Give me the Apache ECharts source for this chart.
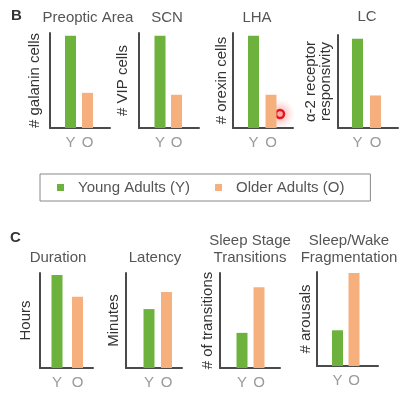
<!DOCTYPE html>
<html>
<head>
<meta charset="utf-8">
<script src="https://cdn.jsdelivr.net/npm/echarts@6/dist/echarts.min.js"></script>
<style>html,body{margin:0;padding:0;background:#fff}#c{width:406px;height:395px}</style>
</head>
<body>
<div id="c"></div>
<script>
// ---- data ----
const categories = ['Y', 'O'];
const seriesNames = ['Young Adults (Y)', 'Older Adults (O)'];
const titlesB = ['Preoptic Area', 'SCN', 'LHA', 'LC'];
const yLabelsB = ['# galanin cells', '# VIP cells', '# orexin cells', 'α-2 receptor\nresponsivity'];
const youngB = [97, 97, 97, 96];
const olderB = [37, 35, 35, 35];
const titlesC = ['Duration', 'Latency', 'Sleep Stage\nTransitions', 'Sleep/Wake\nFragmentation'];
const yLabelsC = ['Hours', 'Minutes', '# of transitions', '# arousals'];
const youngC = [98, 62, 37, 38];
const olderC = [75, 80, 85, 99];

// ---- layout (pixels) ----
const layoutB = [
  {x: 50, x2: 110, top: 33, base: 128, g: 70.5, o: 87.5, gap: 8, tx: 88, ty: 18},
  {x: 139, x2: 199, top: 33, base: 128, g: 160, o: 176.5, gap: 9, tx: 167, ty: 18},
  {x: 233, x2: 293, top: 33, base: 128, g: 253.5, o: 271, gap: 4, tx: 257, ty: 18},
  {x: 338, x2: 398, top: 35, base: 128, g: 357.5, o: 375.5, gap: 5, tx: 367, ty: 17}
];
const layoutC = [
  {x: 40, x2: 93, top: 273, base: 368, g: 57, o: 77.5, gap: 7, tx: 58, ty: 258},
  {x: 126, x2: 182, top: 273, base: 368, g: 149, o: 166.5, gap: 5, tx: 155, ty: 258},
  {x: 220, x2: 280, top: 273, base: 368, g: 242, o: 259, gap: 5, tx: 250, ty: 249.5},
  {x: 317, x2: 378, top: 272, base: 366, g: 337.5, o: 354, gap: 4, tx: 349, ty: 249.5}
];

const GREEN = '#6cb23c', ORANGE = '#f6b07e', AXIS = '#4a4a4a';
const FONT = '"Liberation Sans", Arial, sans-serif';

const grid = [], xAxis = [], yAxis = [], series = [], title = [];

function addPanel(L, ttl, ylab, yv, ov) {
  const fi = grid.length;
  // frame grid (axis lines + y name)
  grid.push({left: L.x, top: L.top, width: L.x2 - L.x, height: L.base - L.top});
  xAxis.push({gridIndex: fi, type: 'value', min: 0, max: 1,
    axisLine: {show: true, lineStyle: {color: AXIS, width: 2}},
    axisTick: {show: false}, axisLabel: {show: false}, splitLine: {show: false}});
  yAxis.push({gridIndex: fi, type: 'value', min: 0, max: 1,
    name: ylab, nameLocation: 'middle', nameGap: L.gap,
    nameTextStyle: {fontSize: 15, color: '#333', fontFamily: FONT, lineHeight: 15},
    axisLine: {show: true, lineStyle: {color: AXIS, width: 2}},
    axisTick: {show: false}, axisLabel: {show: false}, splitLine: {show: false}});
  // bar grid
  const d = L.o - L.g;
  const bi = grid.length;
  grid.push({left: L.g - d / 2, top: L.top, width: 2 * d, height: L.base - L.top});
  xAxis.push({gridIndex: bi, type: 'category', data: categories,
    axisLine: {show: false}, axisTick: {show: false},
    axisLabel: {color: '#9a9a9a', fontSize: 15, fontFamily: FONT, margin: 7}});
  yAxis.push({gridIndex: bi, type: 'value', min: 0, max: 100, show: false});
  series.push({type: 'bar', name: seriesNames[0], xAxisIndex: bi, yAxisIndex: bi,
    data: [yv, '-'], barWidth: 11, barGap: '-100%', itemStyle: {color: GREEN}});
  series.push({type: 'bar', name: seriesNames[1], xAxisIndex: bi, yAxisIndex: bi,
    data: ['-', ov], barWidth: 11, barGap: '-100%', itemStyle: {color: ORANGE}});
  const lines = ttl.split('\n').length;
  title.push({text: ttl, left: L.tx, top: L.ty - lines * 17 / 2, textAlign: 'center', padding: 0,
    textStyle: {fontSize: 15, fontWeight: 'normal', color: '#555', fontFamily: FONT, lineHeight: 17}});
}

layoutB.forEach((L, i) => addPanel(L, titlesB[i], yLabelsB[i], youngB[i], olderB[i]));
layoutC.forEach((L, i) => addPanel(L, titlesC[i], yLabelsC[i], youngC[i], olderC[i]));

title.push({text: 'B', left: 11, top: 8, padding: 0,
  textStyle: {fontSize: 15, fontWeight: 'bold', color: '#333', fontFamily: FONT}});
title.push({text: 'C', left: 10, top: 230, padding: 0,
  textStyle: {fontSize: 15, fontWeight: 'bold', color: '#333', fontFamily: FONT}});

const chart = echarts.init(document.getElementById('c'));
chart.setOption({
  animation: false,
  title: title,
  grid: grid,
  xAxis: xAxis,
  yAxis: yAxis,
  series: series,
  legend: {
    data: seriesNames, left: 40, top: 174, orient: 'horizontal',
    icon: 'rect', itemWidth: 7, itemHeight: 7, itemGap: 25,
    padding: [6, 26, 6, 17], borderColor: '#888', borderWidth: 1,
    textStyle: {fontSize: 15, color: '#555', fontFamily: FONT, padding: [0, 0, 0, 9]}
  },
  graphic: [
    {type: 'circle', shape: {cx: 280, cy: 114, r: 15}, silent: true,
      style: {fill: {type: 'radial', x: 0.5, y: 0.5, r: 0.5,
        colorStops: [{offset: 0, color: 'rgba(250,80,80,0.55)'}, {offset: 0.5, color: 'rgba(250,130,130,0.3)'}, {offset: 1, color: 'rgba(255,170,170,0)'}]}}},
    {type: 'circle', shape: {cx: 280, cy: 114, r: 4}, silent: true,
      style: {fill: 'none', stroke: '#e8141a', lineWidth: 2.5}}
  ]
});
</script>
</body>
</html>
